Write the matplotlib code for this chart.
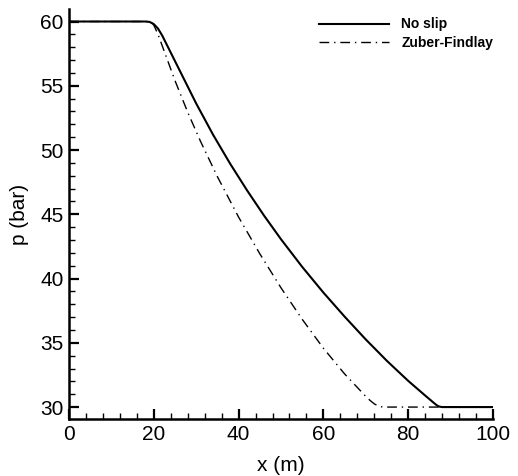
import matplotlib
matplotlib.use("Agg")
import matplotlib.pyplot as plt
from matplotlib.ticker import MultipleLocator

plt.rcParams['font.family'] = ['Liberation Sans', 'DejaVu Sans']

# No slip series (x in m, p in bar)
x_noslip = [0, 18, 19, 20, 21, 22, 24, 27, 30, 34, 38, 42, 46, 50, 55, 60, 65, 70, 75, 80, 84, 85, 86, 86.7, 87.3, 88, 100]
p_noslip = [60, 60, 59.97, 59.8, 59.45, 58.9, 57.58, 55.6, 53.62, 51.18, 48.94, 46.86, 44.9, 43.06, 40.91, 38.91, 37.04, 35.26, 33.59, 32.04, 30.9, 30.62, 30.34, 30.15, 30.04, 30.0, 30.0]

# Zuber-Findlay series
x_zuber = [0, 18, 19, 19.5, 20, 21, 22, 25, 28, 31, 35, 40, 45, 50, 55, 60, 65, 70, 71, 72, 73, 74, 100]
p_zuber = [60, 60, 59.98, 59.92, 59.72, 59.0, 58.1, 55.4, 52.94, 50.69, 47.93, 44.78, 41.93, 39.28, 36.83, 34.58, 32.58, 30.83, 30.52, 30.25, 30.07, 30.0, 30.0]

xticks = [0, 20, 40, 60, 80, 100]
yticks = [30, 35, 40, 45, 50, 55, 60]

fig = plt.figure(figsize=(5.18, 4.76), dpi=100)
ax = fig.add_axes([0.1332, 0.1197, 0.8185, 0.8613])

ax.plot(x_noslip, p_noslip, color='black', lw=1.5, label='No slip')
ax.plot(x_zuber, p_zuber, color='black', lw=1.0, dashes=(7, 3.5, 1, 3.5), label='Zuber-Findlay')

ax.set_xlim(0, 100)
ax.set_ylim(29.07, 60.97)
ax.set_xticks(xticks)
ax.set_yticks(yticks)
ax.xaxis.set_minor_locator(MultipleLocator(4))
ax.yaxis.set_minor_locator(MultipleLocator(1))

for s in ['top', 'right']:
    ax.spines[s].set_visible(False)
for s in ['left', 'bottom']:
    ax.spines[s].set_linewidth(1.8)

ax.tick_params(which='major', direction='in', length=7, width=1.6, labelsize=15, pad=4)
ax.tick_params(which='minor', direction='in', length=4, width=1.0)

ax.set_xlabel('x (m)', fontsize=15, labelpad=9)
ax.set_ylabel('p (bar)', fontsize=15, labelpad=8)

leg = ax.legend(loc='upper right', bbox_to_anchor=(1.02, 1.0), frameon=False,
                prop={'weight': 'bold', 'size': 10}, handlelength=5.0,
                handletextpad=0.9, borderaxespad=0.2, labelspacing=0.3)

fig.savefig('out.png', dpi=100)
